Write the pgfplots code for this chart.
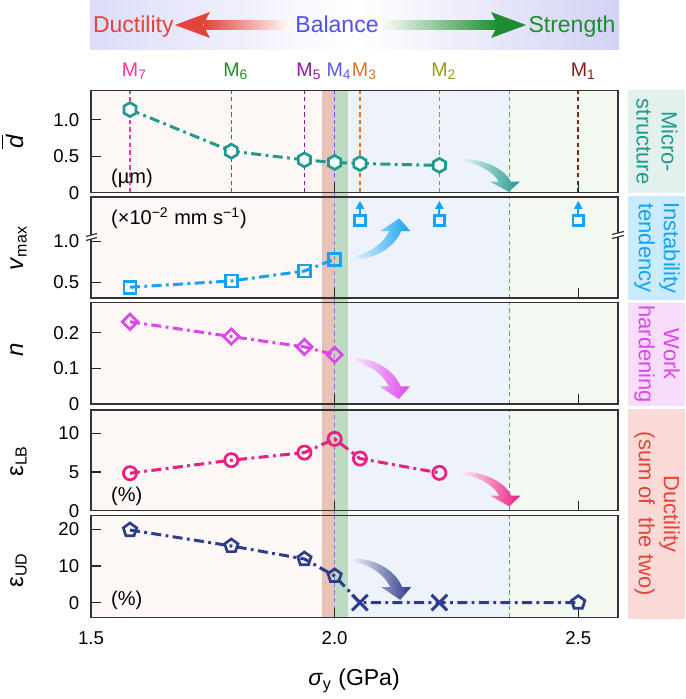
\documentclass[border=0pt]{standalone}
\usepackage{fontspec}
\setmainfont{Liberation Sans}
\usepackage{pgfplots}
\pgfplotsset{compat=1.18}
\usetikzlibrary{arrows.meta,plotmarks}

\definecolor{tealc}{HTML}{1F9A8C}
\definecolor{skyc}{HTML}{16A2F2}
\definecolor{magc}{HTML}{DC46EB}
\definecolor{pinkc}{HTML}{EB1E82}
\definecolor{navyc}{HTML}{2D3C8C}
\definecolor{bgpink}{HTML}{FDF7F6}
\definecolor{bandred}{HTML}{E8C2B7}
\definecolor{bandgreen}{HTML}{BDDAC2}
\definecolor{bgblue}{HTML}{EEF2FA}
\definecolor{bggreen}{HTML}{F3F8F0}
\definecolor{steelc}{HTML}{6A8CC8}
\definecolor{banL}{HTML}{DCDCF8}
\definecolor{banR}{HTML}{D2D2F5}
\definecolor{redt}{HTML}{E2443C}
\definecolor{bluet}{HTML}{5050F0}
\definecolor{greent}{HTML}{1E8C32}
\definecolor{mseven}{HTML}{FF3399}
\definecolor{msix}{HTML}{228B22}
\definecolor{mfive}{HTML}{8B1A9B}
\definecolor{mfour}{HTML}{5858F5}
\definecolor{mthree}{HTML}{E07020}
\definecolor{mtwo}{HTML}{99991A}
\definecolor{mone}{HTML}{8B1A1A}
\definecolor{boxa}{HTML}{E3F1EE}
\definecolor{boxb}{HTML}{C9EBFB}
\definecolor{boxc}{HTML}{F8DDFB}
\definecolor{boxd}{HTML}{F9DAD6}

\pgfdeclareplotmark{hexagon}{%
  \pgfpathmoveto{\pgfpointpolar{90}{\pgfplotmarksize}}%
  \pgfpathlineto{\pgfpointpolar{150}{\pgfplotmarksize}}%
  \pgfpathlineto{\pgfpointpolar{210}{\pgfplotmarksize}}%
  \pgfpathlineto{\pgfpointpolar{270}{\pgfplotmarksize}}%
  \pgfpathlineto{\pgfpointpolar{330}{\pgfplotmarksize}}%
  \pgfpathlineto{\pgfpointpolar{30}{\pgfplotmarksize}}%
  \pgfpathclose
  \pgfusepathqfillstroke}

\newcommand\ticksz{\fontsize{9.3}{11}\selectfont}

\pgfplotsset{
  panel/.style={scale only axis, width=263.35pt, xmin=1.5, xmax=2.581,
    anchor=south west, axis on top, tick align=inside,
    xtick pos=bottom, ytick pos=left,
    xtick={1.5,2,2.5}, xticklabels={}, major tick length=5pt,
    every tick/.style={black!85, line width=0.6pt},
    axis line style={black!80, line width=0.8pt},
    yticklabel style={font=\ticksz, xshift=-2.4pt},
    xticklabel style={font=\ticksz, yshift=-3.5pt},
    /pgf/number format/assume math mode=true},
  dd/.style={line width=1.5pt, dash pattern=on 5pt off 2.2pt on 1.4pt off 2.2pt},
  mk/.style={mark options={solid, fill=white, line width=1.35pt}},
}
\tikzset{vdash/.style={line width=0.75pt, dash pattern=on 2.2pt off 1.6pt}}

% background regions of every panel
\newcommand\bands[2]{%
  \fill[bgpink] (1.5,#1) rectangle (1.974,#2);
  \fill[bandred] (1.974,#1) rectangle (2.0,#2);
  \fill[bandgreen] (2.0,#1) rectangle (2.028,#2);
  \fill[bgblue] (2.028,#1) rectangle (2.359,#2);
  \fill[bggreen] (2.359,#1) rectangle (2.581,#2);}
\newcommand\vlines[2]{%
  \draw[vdash, steelc] (2.0,#1) -- (2.0,#2);
  \draw[vdash, steelc] (2.359,#1) -- (2.359,#2);}

% curved shaded arrow, tail at #1
\newcommand\curvarrow[3]{%
  \begin{scope}[shift={(#1)}, x=0.5pt, y=#3]
    \shade[left color=#2!4, right color=#2] (0,0) .. controls (22,2) and (45,-8) .. (53,-24)
      -- (62,-24) -- (51,-35) -- (32,-24) -- (41,-24)
      .. controls (35,-13) and (20,-4) .. (0,-1.5) -- cycle;
  \end{scope}}

\begin{document}
\begin{tikzpicture}
\path[use as bounding box] (0,0) rectangle (342.5pt,349.5pt);

% pixel-like frame for decorations
\begin{scope}[shift={(0pt,349.5pt)}, x=0.5pt, y=-0.5pt]
  % banner
  \shade[left color=banL, right color=banR, middle color=white] (90,0) rectangle (619,50);
  \shade[left color=redt, right color=white] (204,20.5) rectangle (291,29.5);
  \fill[redt] (175,25) -- (210,12) -- (203,25) -- (210,38) -- cycle;
  \shade[left color=white, right color=greent] (379,20.5) rectangle (498,29.5);
  \fill[greent] (526,25) -- (491,12) -- (498,25) -- (491,38) -- cycle;
  \node[font=\fontsize{11.5}{13}\selectfont, text=redt, anchor=base] at (133.3,33) {Ductility};
  \node[font=\fontsize{11.5}{13}\selectfont, text=bluet, anchor=base] at (337,33) {Balance};
  \node[font=\fontsize{11.5}{13}\selectfont, text=greent, anchor=base] at (572,33) {Strength};
  % sample labels
  \foreach \xx/\cc/\nn in {130.1/mseven/7, 231.5/msix/6, 304.6/mfive/5, 334.7/mfour/4,
      360.1/mthree/3, 439.5/mtwo/2, 578.9/mone/1}
    \node[font=\fontsize{9.8}{11}\selectfont, text=\cc, anchor=base] at (\xx,76.7) {M\rlap{\textsubscript{\nn}}};
  % continuous band through the gaps
  \fill[bandred] (322,90.7) rectangle (334.7,617.7);
  \fill[bandgreen] (334.7,90.7) rectangle (348.3,617.7);
  \draw[vdash, steelc] (334.7,192) -- (334.7,198);
  \draw[vdash, steelc] (334.7,298) -- (334.7,303);
  \draw[vdash, steelc] (334.7,404) -- (334.7,410);
  \draw[vdash, steelc] (334.7,510) -- (334.7,516);
  % right-hand boxes
  \fill[boxa] (627.7,90) rectangle (685,193.3);
  \fill[boxb] (627.7,196) rectangle (685,300);
  \fill[boxc] (627.7,302.7) rectangle (685,406);
  \fill[boxd] (627.7,408.7) rectangle (685,618.7);
  \node[font=\fontsize{11}{12.5}\selectfont, text=tealc, rotate=-90, align=center] at (657,141.7) {Micro-\\structure};
  \node[font=\fontsize{11}{12.5}\selectfont, text=skyc, rotate=-90, align=center] at (657,248) {Instability\\tendency};
  \node[font=\fontsize{11}{12.5}\selectfont, text=magc, rotate=-90, align=center] at (657,354.3) {Work\\hardening};
  \node[font=\fontsize{11}{12.5}\selectfont, text=redt, rotate=-90, align=center] at (657,513.7) {Ductility\\(sum of\ \ the two)};
  % y labels
  \node[font=\fontsize{12}{14}\selectfont, rotate=90, anchor=base] at (23,141.7) {$\overline{\mbox{\textit{d}}}$};
  \node[font=\fontsize{12}{14}\selectfont, rotate=90, anchor=base] at (23,248) {\textit{v}\textsubscript{max}};
  \node[font=\fontsize{12}{14}\selectfont, rotate=90, anchor=base] at (23,350) {\textit{n}};
  \node[font=\fontsize{12}{14}\selectfont, rotate=90, anchor=base] at (23,461) {ε\textsubscript{LB}};
  \node[font=\fontsize{12}{14}\selectfont, rotate=90, anchor=base] at (23,570) {ε\textsubscript{UD}};
  % x label
  \node[font=\fontsize{11.5}{13}\selectfont, anchor=base] at (354,686) {\textit{σ}\textsubscript{y} (GPa)};
\end{scope}

% ---------- panel 1: grain size
\begin{axis}[panel, at={(45.5pt,253.15pt)}, height=51pt, ymin=0, ymax=1.4,
  ytick={0,0.5,1}, yticklabels={0,0.5,1.0}]
  \bands{0}{1.4}
  \draw[vdash, mseven] (1.580,0) -- (1.580,1.4);
  \draw[vdash, msix] (1.788,0) -- (1.788,1.4);
  \draw[vdash, mfive] (1.938,0) -- (1.938,1.4);
  \draw[vdash, mfour] (2.0,0) -- (2.0,1.4);
  \draw[vdash, mthree] (2.052,0) -- (2.052,1.4);
  \draw[vdash, mtwo] (2.215,0) -- (2.215,1.4);
  \draw[vdash, steelc] (2.359,0) -- (2.359,1.4);
  \draw[vdash, mone] (2.5,0) -- (2.5,1.4);
  \addplot[tealc, dd, mk, mark=hexagon, mark size=3.5pt] coordinates {
    (1.580,1.14) (1.788,0.57) (1.938,0.45) (2.0,0.415) (2.052,0.40) (2.215,0.375)};
  \node[font=\fontsize{10}{12}\selectfont, anchor=west] at (1.527,0.2) {(µm)};
  \coordinate (a1) at (2.253,0.457);
\end{axis}

% ---------- panel 2: instability
\begin{axis}[panel, at={(45.5pt,200.35pt)}, height=50.5pt, ymin=0.31, ymax=1.532,
  ytick={0.5,1}, yticklabels={0.5,1.0}]
  \bands{0.31}{1.532}
  \vlines{0.31}{1.532}
  \addplot[skyc, dd, mk, mark=square, mark size=3pt] coordinates {
    (1.580,0.444) (1.788,0.52) (1.938,0.64) (2.0,0.783)};
  \addplot[skyc, only marks, mk, mark=square, mark size=2.6pt] coordinates {
    (2.052,1.25) (2.215,1.25) (2.5,1.25)};
  \draw[skyc, line width=1pt, -{Triangle[length=4pt,width=4pt]}] (2.052,1.315) -- (2.052,1.49);
  \draw[skyc, line width=1pt, -{Triangle[length=4pt,width=4pt]}] (2.215,1.315) -- (2.215,1.49);
  \draw[skyc, line width=1pt, -{Triangle[length=4pt,width=4pt]}] (2.5,1.315) -- (2.5,1.49);
  \node[font=\fontsize{10}{12}\selectfont, anchor=west] at (1.527,1.282) {(×10\textsuperscript{−2} mm s\textsuperscript{−1})};
  \coordinate (a2) at (2.028,0.786);
\end{axis}

% ---------- panel 3: work hardening
\begin{axis}[panel, at={(45.5pt,147.5pt)}, height=50.65pt, ymin=0, ymax=0.284,
  ytick={0,0.1,0.2}, yticklabels={0,0.1,0.2}]
  \bands{0}{0.284}
  \vlines{0}{0.284}
  \addplot[magc, dd, mark=square, mark size=2.7pt,
    mark options={solid, fill=white, line width=1.35pt, rotate=45}] coordinates {
    (1.580,0.2305) (1.788,0.189) (1.938,0.16) (2.0,0.138)};
  \coordinate (a3) at (2.027,0.128);
\end{axis}

% ---------- panel 4: local ductility
\begin{axis}[panel, at={(45.5pt,94.15pt)}, height=50.35pt, ymin=0, ymax=13,
  ytick={0,5,10}, yticklabels={0,5,10}]
  \bands{0}{13}
  \vlines{0}{13}
  \addplot[pinkc, dd, mk, mark=o, mark size=3.3pt] coordinates {
    (1.580,4.84) (1.788,6.52) (1.938,7.5) (2.0,9.27) (2.052,6.73) (2.215,4.88)};
  \node[font=\fontsize{10}{12}\selectfont, anchor=west] at (1.527,1.9) {(\%)};
  \coordinate (a4) at (2.254,4.97);
\end{axis}

% ---------- panel 5: uniform ductility
\begin{axis}[panel, at={(45.5pt,40.65pt)}, height=51pt, ymin=-4.1, ymax=23.7,
  ytick={0,10,20}, yticklabels={0,10,20}, xticklabels={1.5,2.0,2.5}]
  \bands{-4.1}{23.7}
  \vlines{-4.1}{23.7}
  \addplot[navyc, dd, no marks] coordinates {
    (1.580,19.8) (1.788,15.45) (1.938,11.9) (2.0,7.3) (2.052,0) (2.215,0) (2.5,0)};
  \addplot[navyc, only marks, mk, mark=pentagon, mark size=3.5pt] coordinates {
    (1.580,19.8) (1.788,15.45) (1.938,11.9) (2.0,7.3) (2.5,0)};
  \addplot[navyc, only marks, mark=x, mark size=5.5pt, mark options={line width=1.5pt}] coordinates {
    (2.052,0) (2.215,0)};
  \node[font=\fontsize{10}{12}\selectfont, anchor=west] at (1.527,0.6) {(\%)};
  \coordinate (a5) at (2.030,11.9);
\end{axis}

% curved trend arrows
\curvarrow{a1}{tealc}{0.463pt}
\curvarrow{a2}{skyc}{-0.58pt}
\curvarrow{a3}{magc}{0.585pt}
\curvarrow{a4}{pinkc}{0.49pt}
\curvarrow{a5}{navyc}{0.585pt}

% axis breaks in panel 2
\begin{scope}[shift={(0pt,349.5pt)}, x=0.5pt, y=-0.5pt]
  \fill[white] (86,236.5) -- (97,233.5) -- (97,237.5) -- (86,240.5) -- cycle;
  \draw[black!80, line width=0.6pt] (86,236.5) -- (97,233.5) (86,240.5) -- (97,237.5);
  \fill[white] (612,234.5) -- (624,231.5) -- (624,235.5) -- (612,238.5) -- cycle;
  \draw[black!80, line width=0.6pt] (612,234.5) -- (624,231.5) (612,238.5) -- (624,235.5);
\end{scope}
\end{tikzpicture}
\end{document}
